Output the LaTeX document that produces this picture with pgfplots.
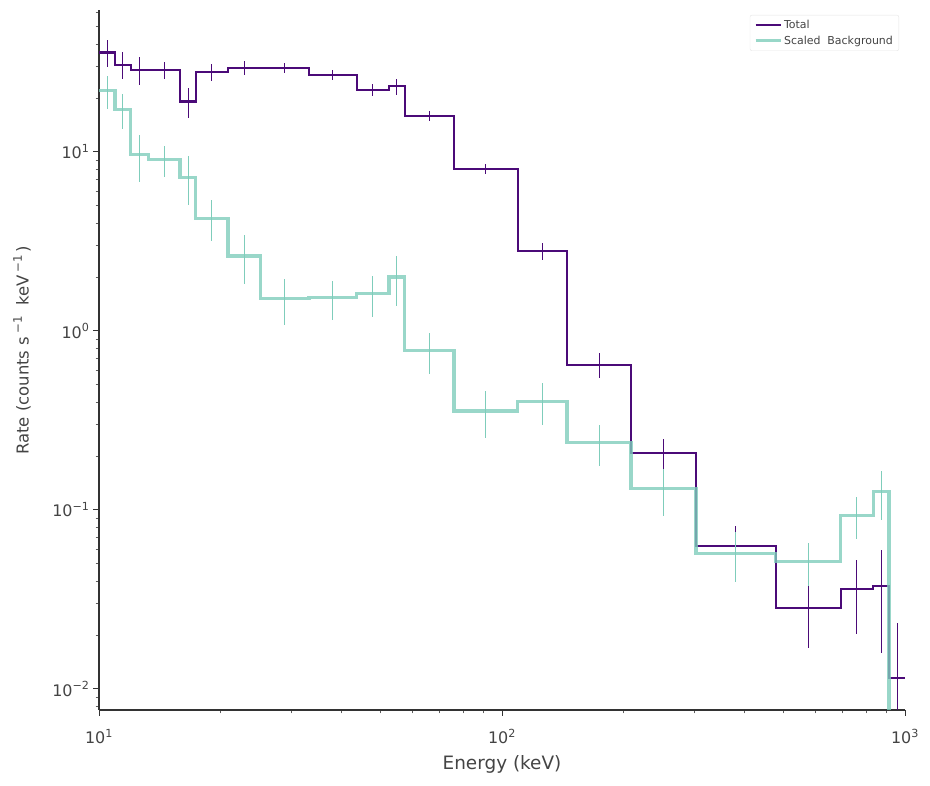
\documentclass[border=0pt]{standalone}
\usepackage{pgfplots}
\pgfplotsset{compat=1.18}
\usepackage{pgfplotstable}
\usepackage{fontspec}
\setmainfont{DejaVu Sans}
\definecolor{tot}{HTML}{4B0A78}
\definecolor{bkg}{HTML}{7FCDBB}
\definecolor{txt}{HTML}{444444}
\definecolor{spine}{HTML}{333333}
\newcommand{\mysup}[1]{\raisebox{0.42em}{\fontsize{11.8}{12}\selectfont #1}}
\newcommand{\xtl}[1]{\rule{0pt}{24bp}10\textsuperscript{#1}}
\newcommand{\ytl}[1]{10\textsuperscript{#1}\hspace{8bp}}

\pgfplotstableread{
x y
10 35.9
10.96 30.7
11.99 28.7
13.25 28.7
15.89 19.1
17.40 28.0
20.90 29.5
25.19 29.5
33.20 27.0
43.60 22.2
52.44 23.2
57.43 15.95
76.02 8.04
109.4 2.80
145.0 0.648
209.0 0.2068
302.9 0.0629
477.8 0.02846
692.4 0.0362
834.1 0.0378
912.6 0.01156
1000 0.01156
}\totstep

\pgfplotstableread{
x y ep em
10.47 35.9 6.0 6.0
11.46 30.7 5.3 5.3
12.60 28.7 5.0 5.0
14.51 28.7 3.1 3.1
16.63 19.1 3.6 3.6
19.07 28.0 3.0 3.0
22.94 29.5 2.8 2.8
28.92 29.5 1.9 1.9
38.05 27.0 1.7 1.7
47.82 22.2 1.8 1.8
54.88 23.2 2.3 2.3
66.07 15.95 1.0 1.0
91.20 8.04 0.5 0.5
125.9 2.80 0.3 0.3
174.1 0.648 0.1 0.1
251.6 0.2068 0.043 0.043
380.4 0.0629 0.018 0.018
575.2 0.02846 0.0116 0.0116
760.0 0.0362 0.016 0.016
872.5 0.0378 0.022 0.022
955.3 0.01156 0.0117 0.01155
}\toterr

\pgfplotstableread{
x y
10 21.9
10.96 17.2
11.99 9.62
13.25 9.02
15.89 7.22
17.40 4.26
20.90 2.62
25.19 1.51
33.20 1.53
43.60 1.61
52.44 2.00
57.43 0.776
76.02 0.357
109.4 0.405
145.0 0.2367
209.0 0.131
302.9 0.0573
477.8 0.0517
692.4 0.0934
834.1 0.1261
912.6 0.00001
1000 0.00001
}\bkgstep

\pgfplotstableread{
x y ep em
10.47 21.9 4.5 4.5
11.46 17.2 3.8 3.8
12.60 9.62 2.8 2.8
14.51 9.02 1.8 1.8
16.63 7.22 2.2 2.2
19.07 4.26 1.1 1.1
22.94 2.62 0.8 0.8
28.92 1.51 0.43 0.43
38.05 1.53 0.38 0.38
47.82 1.61 0.42 0.42
54.88 2.00 0.62 0.62
66.07 0.776 0.2 0.2
91.20 0.357 0.104 0.104
125.9 0.405 0.107 0.107
174.1 0.2367 0.06 0.06
251.6 0.131 0.038 0.038
380.4 0.0573 0.0176 0.0176
575.2 0.0517 0.014 0.014
760.0 0.0934 0.025 0.025
872.5 0.1261 0.038 0.038
}\bkgerr

\begin{document}
\begin{tikzpicture}
\begin{axis}[
  scale only axis, width=806bp, height=700bp,
  xmode=log, ymode=log,
  xmin=10, xmax=1000, ymin=0.00763, ymax=62,
  axis x line*=bottom, axis y line*=left,
  axis line style={draw=spine, line width=1.2bp, -},
  tick align=outside,
  major tick length=6bp, minor tick length=3.5bp,
  every tick/.style={draw=spine, line width=1bp},
  every minor tick/.style={draw=spine!80, line width=0.8bp},
  xtick={10,100,1000},
  xticklabels={\xtl{1},\xtl{2},\xtl{3}},
  minor xtick={20,30,40,50,60,70,80,90,200,300,400,500,600,700,800,900},
  ytick={0.01,0.1,1,10},
  yticklabels={\ytl{−2},\ytl{−1},\ytl{0},\ytl{1}},
  minor ytick={0.008,0.009,0.02,0.03,0.04,0.05,0.06,0.07,0.08,0.09,0.2,0.3,0.4,0.5,0.6,0.7,0.8,0.9,2,3,4,5,6,7,8,9,20,30,40,50,60},
  ticklabel style={font=\fontsize{16}{18}\selectfont, text=txt},
  every axis x label/.style={at={(axis description cs:0.5,0)}, yshift=-54bp, anchor=center,
    font=\fontsize{18.5}{20}\selectfont, text=txt},
  every axis y label/.style={at={(axis description cs:0,0.5136)}, xshift=-77bp, rotate=90, anchor=center,
    font=\fontsize{16.5}{18}\selectfont, text=txt},
  xlabel={Energy (keV)},
  ylabel={Rate (counts s\hspace{0.2em}\mysup{−1}\hspace{0.35em} keV\hspace{0.15em}\mysup{−1}\hspace{0.15em})},
  legend style={at={(rel axis cs:0.9926,0.993)}, anchor=north east,
    font=\fontsize{11}{13}\selectfont, text=txt,
    draw=black!10, rounded corners=2bp, fill=white,
    inner xsep=4bp, inner ysep=3bp, row sep=2bp},
  legend cell align=left,
  legend image code/.code={\draw[#1] (0bp,0bp) -- (25bp,0bp);},
  clip=true,
]
\addplot[const plot, tot, line width=2.1bp] table[x=x,y=y] {\totstep};
\addlegendentry{Total}
\addplot[draw=none, mark=none, forget plot,
  error bars/.cd, y dir=both, y explicit, error mark=none,
  error bar style={draw=tot, line width=1bp}]
  table[x=x, y=y, y error plus=ep, y error minus=em] {\toterr};
\addplot[const plot, bkg, draw opacity=0.8, line width=3.1bp] table[x=x,y=y] {\bkgstep};
\addlegendentry{Scaled\ \ Background}
\addplot[draw=none, mark=none, forget plot,
  error bars/.cd, y dir=both, y explicit, error mark=none,
  error bar style={draw=bkg, line width=1bp}]
  table[x=x, y=y, y error plus=ep, y error minus=em] {\bkgerr};
\coordinate (ll) at (rel axis cs:0,0);
\coordinate (ur) at (rel axis cs:1,1);
\end{axis}
\pgfresetboundingbox
\path ([xshift=-99bp,yshift=-76bp]ll) rectangle ([xshift=25bp,yshift=10bp]ur);
\end{tikzpicture}
\end{document}
